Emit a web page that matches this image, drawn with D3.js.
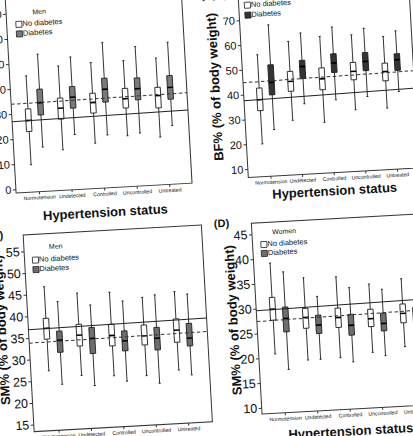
<!DOCTYPE html>
<html>
<head>
<meta charset="utf-8">
<script src="https://cdn.jsdelivr.net/npm/d3@7"></script>
<style>
  body { margin: 0; background: #fff; }
  svg { display: block; }
  text { font-family: "Liberation Sans", Arial, sans-serif; fill: #111; }
</style>
</head>
<body>
<div id="chart"></div>
<script>
// categories on the x axis
var categories = ["Normotension", "Undetected", "Controlled", "Uncontrolled", "Untreated"];
var groups = ["No diabetes", "Diabetes"];

// y tick values
var bfMenTicks = [0, 10, 20, 30, 40, 50, 60, 70, 80];
var bfWomenTicks = [10, 20, 30, 40, 50, 60, 70, 80];
var smMenTicks = [15, 20, 25, 30, 35, 40, 45, 50, 55];
var smWomenTicks = [10, 15, 20, 25, 30, 35, 40, 45];

// box values: [min, q1, median, q3, max]
var bfMenNoDm = [[9.4, 22.7, 27.1, 31.7, 44.9], [14.7, 26.9, 31.3, 35.3, 48.1], [16.6, 28.6, 32.8, 36.5, 48.7], [18.8, 29.9, 33.6, 37.7, 48.8], [17.6, 29.2, 34.1, 37.4, 49.1]];
var bfMenDm = [[16.2, 29.0, 33.9, 39.3, 53.2], [20.5, 31.0, 35.4, 39.6, 51.4], [19.6, 32.7, 37.8, 42.2, 56.4], [19.6, 32.9, 37.3, 41.6, 54.1], [21.9, 32.4, 37.1, 41.8, 55.1]];
var bfMenSolid = [26.9, 27.7];
var bfMenDashed = [33.9, 34.6];

var bfWomenNoDm = [[19.8, 33.2, 37.6, 42.3, 55.7], [28.6, 40.3, 44.3, 48.3, 60.4], [27.1, 40.2, 44.6, 49.0, 61.7], [31.4, 43.5, 46.9, 50.5, 61.6], [31.4, 42.4, 46.1, 49.5, 60.2]];
var bfWomenDm = [[25.3, 39.3, 44.3, 51.4, 67.5], [35.0, 45.1, 50.0, 52.5, 63.5], [35.9, 46.9, 50.7, 54.4, 65.2], [36.5, 46.9, 50.6, 54.2, 64.0], [37.8, 46.3, 50.6, 53.0, 62.2]];
var bfWomenSolid = [37.5, 38.8];
var bfWomenDashed = [44.8, 45.8];

var smMenNoDm = [[27.2, 34.5, 37.0, 39.3, 46.6], [25.7, 32.5, 35.0, 37.5, 44.7], [25.2, 32.1, 34.5, 37.1, 44.5], [24.8, 31.9, 34.0, 36.5, 42.9], [25.7, 32.1, 34.9, 37.5, 43.8]];
var smMenDm = [[23.9, 31.3, 34.1, 36.2, 43.0], [23.2, 30.6, 34.1, 36.6, 41.8], [23.8, 30.8, 33.1, 35.4, 42.3], [22.9, 30.6, 33.3, 35.8, 43.3], [24.4, 31.1, 32.9, 36.3, 43.1]];
var smMenSolid = [36.9, 37.3];
var smMenDashed = [33.8, 34.2];

var smWomenNoDm = [[20.7, 27.5, 29.7, 32.1, 39.0], [19.1, 25.5, 27.7, 29.5, 35.7], [19.2, 25.3, 27.3, 29.2, 35.5], [19.9, 25.1, 26.7, 28.6, 33.7], [20.7, 25.5, 27.4, 29.3, 34.4]];
var smWomenDm = [[17.4, 25.0, 27.7, 30.0, 37.1], [19.1, 24.3, 26.0, 28.0, 31.8], [18.2, 23.6, 25.6, 27.8, 33.2], [19.1, 24.1, 25.6, 27.7, 32.5], [19.5, 24.5, 26.5, 28.5, 33.0]];
var smWomenSolid = [29.6, 30.1];
var smWomenDashed = [27.4, 27.9];

var svg = d3.select("#chart").append("svg")
  .attr("width", 413)
  .attr("height", 436);

// the whole sheet is photographed slightly tilted
var sheet = svg.append("g")
  .attr("transform", "rotate(-3.2, 206, 218)");

var panels = [
  { tag: "(A)", sex: "Men", ytitle: "BF% (% of body weight)", noDm: bfMenNoDm, dm: bfMenDm,
    solid: bfMenSolid, dashed: bfMenDashed, ticks: bfMenTicks, tickFont: 11,
    x0: 17.8, x1: 194, top: -40, bottom: 182.4, domain: [0, 70], range: [178.7, 3.0], pad: 0.7,
    dmFill: "#7a7a7a", legend: { x: 30, y: 3.2, s1: 14.2, s2: 23.8 }, xtitleY: 207.7, ytitleX: -8, ytitleY: 90, tagX: -10, tagY: -30 },
  { tag: "(B)", sex: "Women", ytitle: "BF% (% of body weight)", noDm: bfWomenNoDm, dm: bfWomenDm,
    solid: bfWomenSolid, dashed: bfWomenDashed, ticks: bfWomenTicks, tickFont: 11,
    x0: 250.5, x1: 421.5, top: -40, bottom: 179.9, domain: [10, 70], range: [171.5, 22.4], pad: 0.7,
    dmFill: "#333", legend: { x: 259.2, y: -3.4, s1: 7.8, s2: 17.8 }, xtitleY: 199, ytitleX: 223.3, ytitleY: 87.6, tagX: 221, tagY: -1 },
  { tag: "(C)", sex: "Men", ytitle: "SM% (% of body weight)", noDm: smMenNoDm, dm: smMenDm,
    solid: smMenSolid, dashed: smMenDashed, ticks: smMenTicks, tickFont: 12.5,
    x0: 22.5, x1: 201, top: 224.7, bottom: 421.7, domain: [15, 55], range: [414.6, 241.2], pad: 0.75,
    dmFill: "#6e6e6e", legend: { x: 33.4, y: 238.4, s1: 250.5, s2: 260 }, xtitleY: 446, ytitleX: -3.3, ytitleY: 318.5, tagX: -5, tagY: 227.5 },
  { tag: "(D)", sex: "Women", ytitle: "SM% (% of body weight)", noDm: smWomenNoDm, dm: smWomenDm,
    solid: smWomenSolid, dashed: smWomenDashed, ticks: smWomenTicks, tickFont: 12.5,
    x0: 251, x1: 426.5, top: 225.8, bottom: 416.9, domain: [10, 45], range: [410.6, 236.9], pad: 0.7,
    dmFill: "#6e6e6e", legend: { x: 262.3, y: 236.1, s1: 247.7, s2: 256.7 }, xtitleY: 439.8, ytitleX: 228.3, ytitleY: 321.5, tagX: 221.2, tagY: 228 }
];

var boxW = 5.5, shift = 6.3;

panels.forEach(function(p) {
  var g = sheet.append("g");

  var x = d3.scalePoint()
    .domain(categories)
    .range([p.x0, p.x1])
    .padding(p.pad);

  var y = d3.scaleLinear()
    .domain(p.domain)
    .range(p.range);

  // frame
  g.append("rect")
    .attr("x", p.x0)
    .attr("y", p.top)
    .attr("width", p.x1 - p.x0)
    .attr("height", p.bottom - p.top)
    .attr("fill", "none")
    .attr("stroke", "#333")
    .attr("stroke-width", 1);

  // y axis
  var yAxis = g.append("g")
    .attr("transform", `translate(${p.x0}, 0)`)
    .call(d3.axisLeft(y).tickValues(p.ticks).tickSize(3).tickPadding(1.5));
  yAxis.select(".domain").remove();
  yAxis.selectAll("line").attr("stroke", "#333");
  yAxis.selectAll("text").style("font-size", p.tickFont + "px").attr("fill", "#111");

  // x axis
  var xAxis = g.append("g")
    .attr("transform", `translate(0, ${p.bottom})`)
    .call(d3.axisBottom(x).tickSize(2.5).tickPadding(1.5));
  xAxis.select(".domain").remove();
  xAxis.selectAll("line").attr("stroke", "#333");
  xAxis.selectAll("text").style("font-size", "5.2px").attr("fill", "#222");

  // boxes
  [p.noDm, p.dm].forEach(function(series, gi) {
    var off = gi === 0 ? -shift : shift;
    var fill = gi === 0 ? "#fff" : p.dmFill;
    var bg = g.append("g");
    series.forEach(function(d, i) {
      var cx = x(categories[i]) + off;
      bg.append("line")
        .attr("x1", cx).attr("x2", cx)
        .attr("y1", y(d[0])).attr("y2", y(d[4]))
        .attr("stroke", "#222").attr("stroke-width", 0.9);
      [d[0], d[4]].forEach(function(v) {
        bg.append("line")
          .attr("x1", cx - 1).attr("x2", cx + 1)
          .attr("y1", y(v)).attr("y2", y(v))
          .attr("stroke", "#222").attr("stroke-width", 1);
      });
      bg.append("rect")
        .attr("x", cx - boxW / 2)
        .attr("y", y(d[3]))
        .attr("width", boxW)
        .attr("height", y(d[1]) - y(d[3]))
        .attr("fill", fill)
        .attr("stroke", "#222")
        .attr("stroke-width", 0.9);
      bg.append("line")
        .attr("x1", cx - boxW / 2).attr("x2", cx + boxW / 2)
        .attr("y1", y(d[2])).attr("y2", y(d[2]))
        .attr("stroke", "#000").attr("stroke-width", 1.6);
    });
  });

  // reference lines
  g.append("line")
    .attr("x1", p.x0).attr("x2", p.x1)
    .attr("y1", y(p.solid[0])).attr("y2", y(p.solid[1]))
    .attr("stroke", "#222").attr("stroke-width", 1);
  g.append("line")
    .attr("x1", p.x0).attr("x2", p.x1)
    .attr("y1", y(p.dashed[0])).attr("y2", y(p.dashed[1]))
    .attr("stroke", "#333").attr("stroke-width", 1)
    .attr("stroke-dasharray", "3.5,2.5");

  // legend
  g.append("text")
    .attr("x", p.legend.x + 21)
    .attr("y", p.legend.y)
    .attr("text-anchor", "middle")
    .attr("dominant-baseline", "middle")
    .style("font-size", "7px")
    .text(p.sex);
  [p.legend.s1, p.legend.s2].forEach(function(sy, gi) {
    g.append("rect")
      .attr("x", p.legend.x - 3)
      .attr("y", sy - 3)
      .attr("width", 6)
      .attr("height", 6)
      .attr("fill", gi === 0 ? "#fff" : p.dmFill)
      .attr("stroke", "#222")
      .attr("stroke-width", 0.8);
    g.append("text")
      .attr("x", p.legend.x + 3.5)
      .attr("y", sy)
      .attr("dominant-baseline", "middle")
      .style("font-size", "7.5px")
      .text(groups[gi]);
  });

  // axis titles
  g.append("text")
    .attr("x", (p.x0 + p.x1) / 2)
    .attr("y", p.xtitleY)
    .attr("text-anchor", "middle")
    .attr("dominant-baseline", "middle")
    .style("font-size", "13px")
    .style("font-weight", "bold")
    .text("Hypertension status");

  g.append("text")
    .attr("transform", `translate(${p.ytitleX}, ${p.ytitleY}) rotate(-90)`)
    .attr("text-anchor", "middle")
    .attr("dominant-baseline", "middle")
    .style("font-size", "13px")
    .style("font-weight", "bold")
    .text(p.ytitle);

  g.append("text")
    .attr("x", p.tagX)
    .attr("y", p.tagY)
    .attr("text-anchor", "middle")
    .style("font-size", "11px")
    .style("font-weight", "bold")
    .text(p.tag);
});
</script>
</body>
</html>
